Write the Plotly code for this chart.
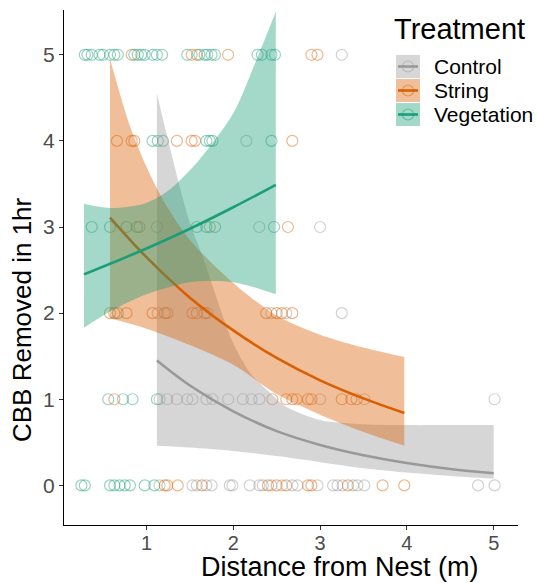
import plotly.graph_objects as go

# ---------------- data ----------------
treatments = ["Control", "String", "Vegetation"]

# observed points (distance, CBB removed)
control_x = [3.25,
             2.15,
             1.12, 2.30, 3.00,
             1.13, 1.70, 2.44, 2.61, 3.25,
             1.15, 1.24, 1.35, 1.47, 1.53, 1.69, 1.76, 1.94, 2.11, 2.21, 2.30, 3.00, 3.51, 5.01,
             1.15, 1.53, 1.58, 1.69, 1.75, 1.96, 1.99, 2.19, 2.30, 2.34, 2.44, 2.56, 2.68, 2.74,
             2.97, 3.15, 3.20, 3.26, 3.38, 3.43, 3.51, 4.82, 5.01]
control_y = [5,
             4,
             3, 3, 3,
             2, 2, 2, 2, 2,
             1, 1, 1, 1, 1, 1, 1, 1, 1, 1, 1, 1, 1, 1,
             0, 0, 0, 0, 0, 0, 0, 0, 0, 0, 0, 0, 0, 0,
             0, 0, 0, 0, 0, 0, 0, 0, 0]

string_x = [0.83, 1.52, 1.58, 1.94, 2.90, 2.97,
            0.66, 0.83, 0.86, 1.35, 1.52, 1.56, 2.68,
            0.92, 1.73, 2.63,
            0.58, 0.63, 0.77, 1.07, 1.21, 1.24, 1.53, 1.58, 1.67, 2.38, 2.50, 2.56, 2.68,
            0.63, 2.45, 2.61, 2.68, 2.73, 2.86, 2.90, 3.25, 3.36, 3.42,
            1.21, 1.24, 1.36, 1.64, 2.40, 2.50, 2.61, 2.86, 2.90, 3.32, 3.72, 3.97]
string_y = [5, 5, 5, 5, 5, 5,
            4, 4, 4, 4, 4, 4, 4,
            3, 3, 3,
            2, 2, 2, 2, 2, 2, 2, 2, 2, 2, 2, 2, 2,
            1, 1, 1, 1, 1, 1, 1, 1, 1, 1,
            0, 0, 0, 0, 0, 0, 0, 0, 0, 0, 0, 0]

veg_x = [0.29, 0.32, 0.37, 0.46, 0.50, 0.58, 0.63, 0.67, 0.86, 0.90, 0.94, 0.98, 1.07, 1.12,
         1.18, 1.47, 1.61, 1.67, 1.70, 1.75, 1.79, 2.28, 2.33, 2.44, 2.48,
         1.07, 1.13, 1.19, 1.69, 1.73, 1.76, 2.44,
         0.37, 0.58, 0.77, 0.89, 1.58, 1.69, 1.79, 2.47,
         0.67,
         0.56, 0.73, 0.84, 1.12,
         0.25, 0.29, 0.58, 0.63, 0.69, 0.75, 0.81, 0.98, 1.09]
veg_y = [5, 5, 5, 5, 5, 5, 5, 5, 5, 5, 5, 5, 5, 5,
         5, 5, 5, 5, 5, 5, 5, 5, 5, 5, 5,
         4, 4, 4, 4, 4, 4, 4,
         3, 3, 3, 3, 3, 3, 3, 3,
         2,
         1, 1, 1, 1,
         0, 0, 0, 0, 0, 0, 0, 0, 0]

# fitted curves and confidence bands
control_fit_x = [1.12, 1.5, 2.0, 2.5, 3.0, 3.5, 4.0, 4.5, 5.0]
control_fit_y = [1.45, 1.16, 0.86, 0.63, 0.47, 0.35, 0.26, 0.19, 0.14]
control_up_x = [1.12, 1.3, 1.5, 1.65, 2.0, 2.2, 2.45, 2.6, 3.0, 3.5, 4.0, 4.5, 5.0]
control_up_y = [4.55, 3.8, 3.05, 2.65, 1.65, 1.3, 1.05, 0.92, 0.76, 0.71, 0.70, 0.70, 0.70]
control_lo_x = [1.12, 1.5, 2.0, 2.5, 3.0, 3.5, 4.0, 4.5, 5.0]
control_lo_y = [0.46, 0.44, 0.40, 0.34, 0.27, 0.20, 0.15, 0.11, 0.08]

string_fit_x = [0.58, 1.0, 1.5, 2.0, 2.5, 3.0, 3.5, 3.97]
string_fit_y = [3.11, 2.65, 2.18, 1.80, 1.48, 1.22, 1.01, 0.84]
string_up_x = [0.58, 0.8, 1.0, 1.2, 1.5, 2.0, 2.5, 3.0, 3.5, 3.97]
string_up_y = [4.95, 4.2, 3.7, 3.3, 2.85, 2.35, 1.97, 1.75, 1.60, 1.49]
string_lo_x = [0.58, 1.0, 1.5, 2.0, 2.5, 3.0, 3.5, 3.97]
string_lo_y = [1.94, 1.82, 1.63, 1.40, 1.06, 0.82, 0.62, 0.46]

veg_fit_x = [0.28, 1.0, 1.5, 2.0, 2.49]
veg_fit_y = [2.45, 2.75, 2.98, 3.23, 3.49]
veg_up_x = [0.28, 0.6, 1.0, 1.25, 1.6, 2.0, 2.25, 2.49]
veg_up_y = [3.27, 3.22, 3.28, 3.42, 3.77, 4.32, 4.90, 5.50]
veg_lo_x = [0.28, 0.6, 1.0, 1.5, 2.0, 2.49]
veg_lo_y = [1.83, 2.03, 2.22, 2.36, 2.36, 2.22]

x_ticks = [1, 2, 3, 4, 5]
y_ticks = [0, 1, 2, 3, 4, 5]

# ---------------- styling ----------------
FONT = "Liberation Sans, Arial, sans-serif"
line_col = {"Control": "#999999", "String": "#D95F02", "Vegetation": "#1B9E77"}
rgb = {"Control": (153, 153, 153), "String": (217, 95, 2), "Vegetation": (27, 158, 119)}


def rgba(name, a):
    r, g, b = rgb[name]
    return f"rgba({r},{g},{b},{a})"


fig = go.Figure()

pts = {"Control": (control_x, control_y), "String": (string_x, string_y), "Vegetation": (veg_x, veg_y)}
for t in treatments:
    px, py = pts[t]
    fig.add_trace(go.Scatter(x=px, y=py, mode="markers", showlegend=False, hoverinfo="x+y",
                             marker=dict(symbol="circle-open", size=11,
                                         color=rgba(t, 0.45), line=dict(width=1.2))))

curves = {
    "Control": (control_fit_x, control_fit_y, control_up_x, control_up_y, control_lo_x, control_lo_y),
    "String": (string_fit_x, string_fit_y, string_up_x, string_up_y, string_lo_x, string_lo_y),
    "Vegetation": (veg_fit_x, veg_fit_y, veg_up_x, veg_up_y, veg_lo_x, veg_lo_y),
}
for t in treatments:
    fx, fy, ux, uy, lx, ly = curves[t]
    fig.add_trace(go.Scatter(x=lx, y=ly, mode="lines", line=dict(width=0, shape="spline", smoothing=0.8),
                             hoverinfo="skip", showlegend=False))
    fig.add_trace(go.Scatter(x=ux, y=uy, mode="lines", fill="tonexty", fillcolor=rgba(t, 0.4),
                             line=dict(width=0, shape="spline", smoothing=0.8),
                             hoverinfo="skip", showlegend=False))
    fig.add_trace(go.Scatter(x=fx, y=fy, mode="lines", showlegend=False,
                             line=dict(color=line_col[t], width=2.6, shape="spline")))

# ---------------- legend (drawn) ----------------
L, R, T, B = 64, 518, 10, 525
W, H = R - L, B - T


def px2x(p):
    return (p - L) / W


def py2y(p):
    return (B - p) / H


shapes = []
annotations = []
annotations.append(dict(text="Treatment", x=px2x(392), y=py2y(29), xref="paper", yref="paper",
                        xanchor="left", yanchor="middle", showarrow=False,
                        font=dict(family=FONT, size=29, color="black")))
key_top = 55
for i, t in enumerate(treatments):
    y0 = key_top + i * 24
    y1 = y0 + 23
    ym = (y0 + y1) / 2
    shapes.append(dict(type="rect", xref="paper", yref="paper", x0=px2x(396), x1=px2x(420),
                       y0=py2y(y1), y1=py2y(y0), fillcolor=rgba(t, 0.4), line=dict(width=0)))
    shapes.append(dict(type="line", xref="paper", yref="paper", x0=px2x(398), x1=px2x(418),
                       y0=py2y(ym), y1=py2y(ym), line=dict(color=line_col[t], width=2.6)))
    shapes.append(dict(type="circle", xref="paper", yref="paper", xsizemode="pixel", ysizemode="pixel",
                       xanchor=px2x(408), yanchor=py2y(ym), x0=-5.5, x1=5.5, y0=-5.5, y1=5.5,
                       line=dict(color=rgba(t, 0.5), width=1.2)))
    annotations.append(dict(text=t, x=px2x(432), y=py2y(ym), xref="paper", yref="paper",
                            xanchor="left", yanchor="middle", showarrow=False,
                            font=dict(family=FONT, size=21, color="black")))

# axis titles
annotations.append(dict(text="Distance from Nest (m)", x=px2x(340), y=py2y(567), xref="paper", yref="paper",
                        xanchor="center", yanchor="middle", showarrow=False,
                        font=dict(family=FONT, size=27, color="black")))
annotations.append(dict(text="CBB Removed in 1hr", x=px2x(22), y=py2y(320), xref="paper", yref="paper",
                        xanchor="center", yanchor="middle", showarrow=False, textangle=-90,
                        font=dict(family=FONT, size=26, color="black")))

fig.update_layout(
    width=539, height=583,
    margin=dict(l=L, r=539 - R, t=T, b=583 - B),
    paper_bgcolor="white", plot_bgcolor="white",
    font=dict(family=FONT),
    shapes=shapes, annotations=annotations,
    showlegend=False,
)
fig.update_xaxes(range=[0.05, 5.28], tickvals=x_ticks, ticks="outside", ticklen=4, tickwidth=1,
                 tickcolor="#333333", showgrid=False, zeroline=False, showline=True,
                 ticklabelstandoff=-4,
                 linecolor="black", linewidth=1, tickfont=dict(family=FONT, size=20, color="#4d4d4d"))
fig.update_yaxes(range=[-0.46, 5.52], tickvals=y_ticks, ticks="outside", ticklen=4, tickwidth=1,
                 tickcolor="#333333", showgrid=False, zeroline=False, showline=True,
                 linecolor="black", linewidth=1, tickfont=dict(family=FONT, size=21, color="#4d4d4d"))

fig.write_html("out.html", config={"displayModeBar": False},
               post_script="document.body.style.margin='0px';document.body.style.overflow='hidden';")
